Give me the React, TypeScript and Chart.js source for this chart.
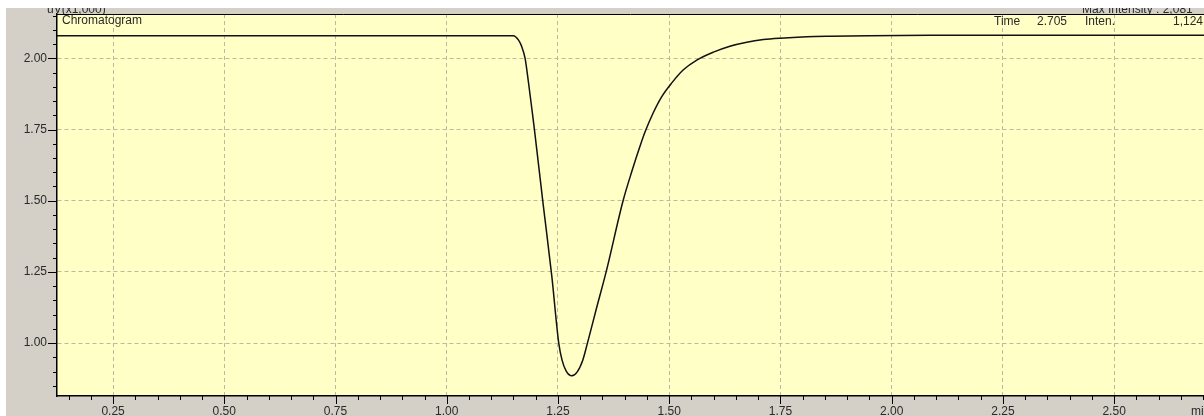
import React, { useEffect, useRef } from "react";
import { Chart, registerables } from "chart.js";

Chart.register(...registerables);

// Retention time (min) and detector response (uV x1,000)
const retentionTimes = [
  0.124, 0.5, 1.0, 1.14, 1.1498, 1.161, 1.1687, 1.1761, 1.1835, 1.1911, 1.197,
  1.2165, 1.2361, 1.2518, 1.2592, 1.2682, 1.281, 1.2929, 1.3057, 1.3161,
  1.3367, 1.3581, 1.3963, 1.4166, 1.4345, 1.4458, 1.4644,
  1.4833, 1.5058, 1.5319, 1.562, 1.5993, 1.6364, 1.6744, 1.7117, 1.7492,
  1.8092, 1.8616, 1.95, 2.1, 2.4, 2.702,
];
const intensities = [
  2.08, 2.08, 2.08, 2.08, 2.08, 2.065, 2.041, 2.0, 1.918, 1.825, 1.751,
  1.49, 1.235, 0.999, 0.94, 0.902, 0.885, 0.898, 0.94, 0.999,
  1.123, 1.249, 1.5, 1.606, 1.692, 1.742, 1.81,
  1.866, 1.914, 1.96, 1.994, 2.022, 2.043, 2.057, 2.066, 2.071,
  2.076, 2.078, 2.08, 2.081, 2.081, 2.081,
];

const xTickValues = [0.25, 0.5, 0.75, 1.0, 1.25, 1.5, 1.75, 2.0, 2.25, 2.5];
const yTickValues = [1.0, 1.25, 1.5, 1.75, 2.0];

const X_MIN = 0.124;
const X_MAX = 2.702;
const Y_MIN = 0.814;
const Y_MAX = 2.156;

const FONT = "'Liberation Sans', Arial, sans-serif";
const PANEL_GRAY = "#d4d0c8";
const PLOT_YELLOW = "#ffffc6";
const GRID_COLOR = "#bdb99e";
const TEXT_COLOR = "#2a2a2a";

const chromatogramFrame = {
  id: "chromatogramFrame",
  beforeDraw(chart: any) {
    const { ctx, width, height, chartArea } = chart;
    ctx.save();
    ctx.fillStyle = "#ffffff";
    ctx.fillRect(0, 0, width, height);
    ctx.fillStyle = PANEL_GRAY;
    ctx.fillRect(6, 8, width - 6, height - 8);
    ctx.fillStyle = PLOT_YELLOW;
    ctx.fillRect(
      chartArea.left,
      chartArea.top,
      chartArea.right - chartArea.left,
      chartArea.bottom - chartArea.top
    );
    ctx.restore();
  },
  afterDraw(chart: any) {
    const { ctx, width, chartArea, scales } = chart;
    const xs = scales.x;
    const ys = scales.y;
    ctx.save();
    ctx.strokeStyle = "#000";
    ctx.lineWidth = 1;

    // top frame line
    ctx.beginPath();
    ctx.moveTo(chartArea.left, chartArea.top + 0.5);
    ctx.lineTo(chartArea.right, chartArea.top + 0.5);
    ctx.stroke();

    // x-axis tick marks (minor every 0.05, major every 0.25)
    ctx.beginPath();
    for (let i = 3; i * 0.05 <= X_MAX; i++) {
      const v = i * 0.05;
      const px = Math.round(xs.getPixelForValue(v)) + 0.5;
      const major = i % 5 === 0;
      ctx.moveTo(px, chartArea.bottom);
      ctx.lineTo(px, chartArea.bottom + (major ? 8 : 4));
    }
    // y-axis tick marks
    for (let i = 17; i * 0.05 <= Y_MAX; i++) {
      const v = i * 0.05;
      const py = Math.round(ys.getPixelForValue(v)) + 0.5;
      const major = i % 5 === 0;
      ctx.moveTo(chartArea.left, py);
      ctx.lineTo(chartArea.left - (major ? 9 : 4), py);
    }
    ctx.stroke();

    ctx.fillStyle = TEXT_COLOR;
    ctx.font = `12px ${FONT}`;
    ctx.textBaseline = "middle";
    ctx.textAlign = "left";
    ctx.fillText("Chromatogram", 62, 21);
    ctx.fillText("Time", 994, 22);
    ctx.fillText("2.705", 1037, 22);
    ctx.fillText("Inten.", 1085, 22);
    ctx.fillText("1,124", 1173, 22);

    ctx.textBaseline = "alphabetic";
    ctx.fillText("min", 1191, 415);

    // headings partly hidden above the panel edge
    ctx.beginPath();
    ctx.rect(6, 8, width - 6, chartArea.top - 8);
    ctx.clip();
    ctx.fillText("uV(x1,000)", 47, 13);
    ctx.fillText("Max Intensity : 2,081", 1082, 13);
    ctx.restore();
  },
};

export default function App() {
  const canvasRef = useRef<HTMLCanvasElement | null>(null);

  useEffect(() => {
    document.body.style.margin = "0";
    const canvas = canvasRef.current;
    if (!canvas) return;
    const points = retentionTimes.map((t, i) => ({ x: t, y: intensities[i] }));

    const chart = new Chart(canvas, {
      type: "line",
      data: {
        datasets: [
          {
            label: "Chromatogram",
            data: points,
            borderColor: "#111111",
            borderWidth: 1.5,
            pointRadius: 0,
            fill: false,
            cubicInterpolationMode: "monotone",
          },
        ],
      },
      options: {
        animation: false,
        responsive: false,
        maintainAspectRatio: false,
        parsing: false,
        layout: { padding: { top: 14, right: 0, left: 0, bottom: 0 } },
        plugins: {
          legend: { display: false },
          tooltip: { enabled: false },
          title: { display: false },
        },
        scales: {
          x: {
            type: "linear",
            min: X_MIN,
            max: X_MAX,
            afterBuildTicks: (scale: any) => {
              scale.ticks = xTickValues.map((v) => ({ value: v }));
            },
            afterFit: (scale: any) => {
              scale.height = 20;
            },
            grid: {
              color: GRID_COLOR,
              lineWidth: 1,
              drawTicks: true,
              tickLength: 8,
              tickColor: "rgba(0,0,0,0)",
            },
            border: { display: true, color: "#000", width: 1.5, dash: [4, 3] },
            ticks: {
              padding: 0,
              color: TEXT_COLOR,
              font: { family: FONT, size: 12 },
              maxRotation: 0,
              autoSkip: false,
              callback: (v: any) => Number(v).toFixed(2),
            },
          },
          y: {
            type: "linear",
            min: Y_MIN,
            max: Y_MAX,
            afterBuildTicks: (scale: any) => {
              scale.ticks = yTickValues.map((v) => ({ value: v }));
            },
            afterFit: (scale: any) => {
              scale.width = 57;
            },
            grid: {
              color: GRID_COLOR,
              lineWidth: 1,
              drawTicks: true,
              tickLength: 9,
              tickColor: "rgba(0,0,0,0)",
            },
            border: { display: true, color: "#000", width: 1.5, dash: [4, 3] },
            ticks: {
              padding: 1,
              color: TEXT_COLOR,
              font: { family: FONT, size: 12 },
              autoSkip: false,
              callback: (v: any) => Number(v).toFixed(2),
            },
          },
        },
      },
      plugins: [chromatogramFrame],
    });

    return () => chart.destroy();
  }, []);

  return (
    <div style={{ width: 1204, height: 416 }}>
      <canvas ref={canvasRef} width={1204} height={416} style={{ display: "block" }} />
    </div>
  );
}
